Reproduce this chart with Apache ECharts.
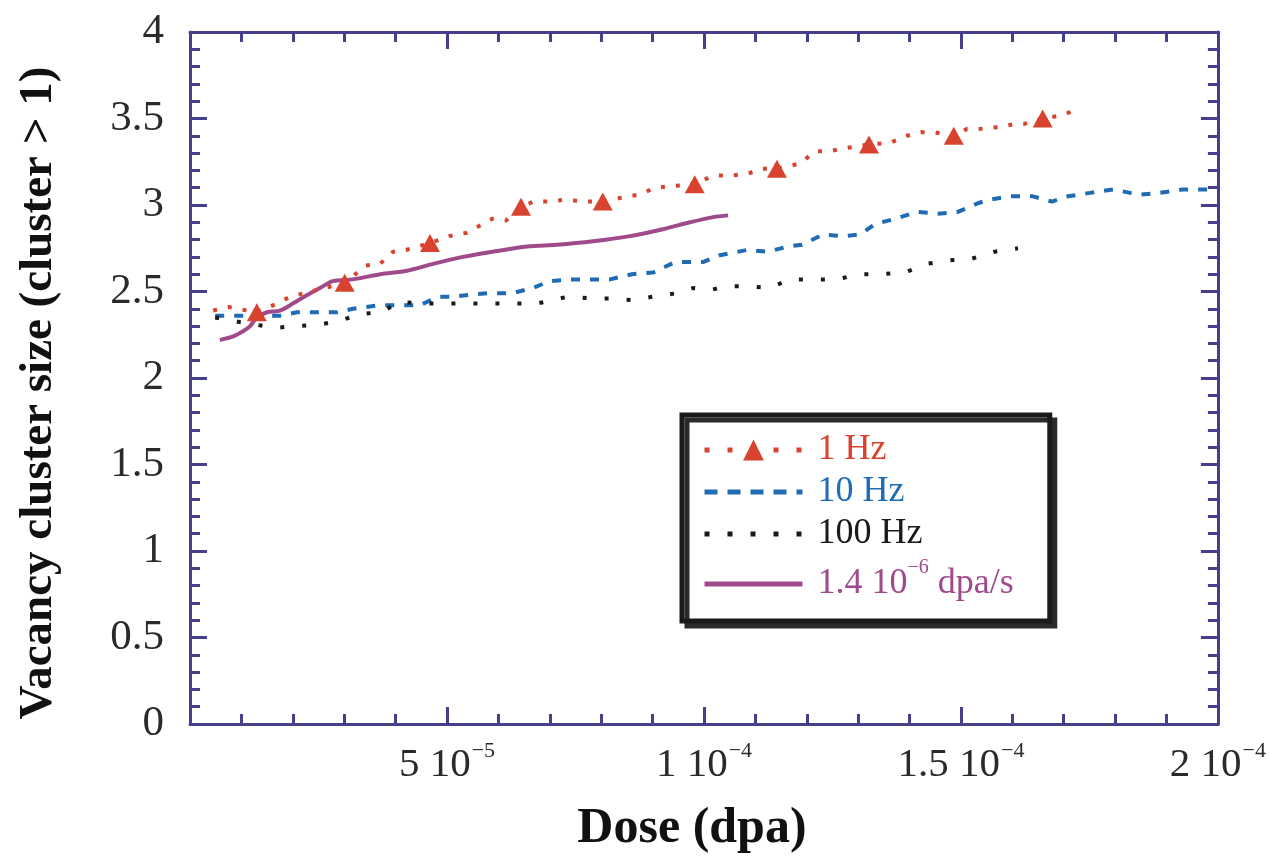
<!DOCTYPE html>
<html>
<head>
<meta charset="utf-8">
<script src="https://cdn.jsdelivr.net/npm/echarts@6/dist/echarts.min.js"></script>
<style>
html,body{margin:0;padding:0;background:#fff;}
#chart{width:1269px;height:859px;}
</style>
</head>
<body>
<div id="chart"></div>
<script>
// x values in units of 1e-5 dpa
const seriesNames = ['1 Hz', '10 Hz', '100 Hz', '1.4 10^-6 dpa/s'];

const hz1 = [
  [0.45, 2.39], [0.75, 2.41], [1.30, 2.38, 'm'], [1.69, 2.43], [1.95, 2.47],
  [3.01, 2.55, 'm'], [3.42, 2.65], [3.70, 2.66], [3.95, 2.73], [4.20, 2.74],
  [4.67, 2.78, 'm'], [5.04, 2.82], [5.39, 2.84], [5.88, 2.92], [6.15, 2.91],
  [6.44, 2.99, 'm'], [6.69, 3.02], [7.02, 3.02], [7.26, 3.03], [7.78, 3.02],
  [8.03, 3.02, 'm'], [8.52, 3.05], [8.74, 3.06], [9.05, 3.10], [9.40, 3.11],
  [9.82, 3.12, 'm'], [10.18, 3.17], [10.51, 3.17], [10.84, 3.18], [11.13, 3.21],
  [11.42, 3.21, 'm'], [11.87, 3.24], [12.16, 3.31], [12.41, 3.31], [12.78, 3.33],
  [13.21, 3.35, 'm'], [13.62, 3.36], [13.95, 3.40], [14.22, 3.42], [14.49, 3.42],
  [14.86, 3.40, 'm'], [15.12, 3.44], [15.37, 3.44], [15.72, 3.45], [16.09, 3.47],
  [16.25, 3.47], [16.59, 3.50, 'm'], [17.00, 3.52], [17.28, 3.56]
];

const hz10 = [
  [0.49, 2.36], [0.82, 2.36], [1.13, 2.36], [1.75, 2.36], [2.08, 2.38],
  [2.53, 2.38], [2.86, 2.38], [3.17, 2.40], [3.66, 2.42], [4.03, 2.42],
  [4.47, 2.42], [4.82, 2.47], [5.12, 2.47], [5.41, 2.48], [5.80, 2.49],
  [6.26, 2.49], [6.67, 2.52], [7.00, 2.56], [7.39, 2.57], [7.78, 2.57],
  [8.17, 2.57], [8.60, 2.60], [9.01, 2.61], [9.44, 2.67], [9.98, 2.67],
  [10.31, 2.71], [10.84, 2.74], [11.25, 2.73], [11.63, 2.76], [11.91, 2.77],
  [12.32, 2.83], [12.70, 2.82], [13.04, 2.83], [13.33, 2.89], [13.72, 2.92],
  [14.14, 2.96], [14.55, 2.95], [14.94, 2.96], [15.33, 3.01], [15.54, 3.03],
  [15.95, 3.05], [16.40, 3.05], [16.77, 3.02], [17.08, 3.05], [17.51, 3.07],
  [17.96, 3.09], [18.29, 3.07], [18.48, 3.06], [18.87, 3.07], [19.32, 3.09],
  [19.94, 3.09]
];

const hz100 = [
  [0.49, 2.35], [0.84, 2.33], [1.65, 2.29], [2.08, 2.30], [2.53, 2.31],
  [2.92, 2.33], [3.29, 2.37], [3.74, 2.38], [4.05, 2.44], [4.51, 2.43],
  [5.00, 2.43], [5.41, 2.43], [5.88, 2.43], [6.30, 2.43], [6.75, 2.43],
  [7.35, 2.47], [7.82, 2.46], [8.17, 2.46], [8.60, 2.45], [9.01, 2.47],
  [9.47, 2.49], [9.79, 2.52], [10.14, 2.51], [10.45, 2.53], [10.84, 2.53],
  [11.28, 2.52], [11.67, 2.57], [12.12, 2.57], [12.57, 2.57], [13.04, 2.60],
  [13.46, 2.60], [13.91, 2.61], [14.34, 2.66], [14.79, 2.68], [15.21, 2.69],
  [15.66, 2.73], [16.11, 2.75]
];

const rateSeries = [
  [0.58, 2.22], [0.84, 2.24], [1.03, 2.27], [1.17, 2.30], [1.30, 2.35],
  [1.50, 2.38], [1.75, 2.39], [2.00, 2.43], [2.28, 2.48], [2.53, 2.52],
  [2.78, 2.56], [3.17, 2.57], [3.70, 2.60], [4.22, 2.62], [4.73, 2.66],
  [5.31, 2.70], [5.89, 2.73], [6.56, 2.76], [7.14, 2.77], [7.84, 2.79],
  [8.56, 2.82], [9.20, 2.86], [9.73, 2.90], [10.18, 2.93], [10.47, 2.94]
];

const xTickValues = [5, 10, 15, 20];
const xTickMantissa = ['5', '1', '1.5', '2'];
const xTickExponent = ['\u22125', '\u22124', '\u22124', '\u22124'];

const colors = {
  red: '#d8432f',
  blue: '#1f6bb4',
  black: '#1a1a1a',
  purple: '#a04a8c',
  axis: '#463f8e'
};

const serif = "'Liberation Serif', 'Times New Roman', serif";

const chart = echarts.init(document.getElementById('chart'), null, {renderer: 'canvas'});

function xAxisBase(position, showLabel) {
  return {
    type: 'value',
    position: position,
    min: 0, max: 20, interval: 5,
    axisLine: {show: true, onZero: false, lineStyle: {color: colors.axis, width: 3}},
    axisTick: {show: true, inside: true, length: 17, lineStyle: {color: colors.axis, width: 3}},
    minorTick: {show: true, splitNumber: 5, length: 10, lineStyle: {color: colors.axis, width: 3}},
    splitLine: {show: false},
    minorSplitLine: {show: false},
    axisLabel: {
      show: showLabel,
      margin: 16,
      formatter: function (v) {
        const i = xTickValues.indexOf(v);
        if (i < 0) return '';
        return '{m|' + xTickMantissa[i] + ' 10}{e|' + xTickExponent[i] + '}';
      },
      rich: {
        m: {fontFamily: serif, fontSize: 41, color: '#2a2a2a', lineHeight: 46, verticalAlign: 'bottom'},
        e: {fontFamily: serif, fontSize: 22, color: '#2a2a2a', lineHeight: 46, verticalAlign: 'top', padding: [0, 0, 0, 1]}
      }
    }
  };
}

function yAxisBase(position, showLabel) {
  return {
    type: 'value',
    position: position,
    min: 0, max: 4, interval: 0.5,
    axisLine: {show: true, onZero: false, lineStyle: {color: colors.axis, width: 3}},
    axisTick: {show: true, inside: true, length: 17, lineStyle: {color: colors.axis, width: 3}},
    minorTick: {show: true, splitNumber: 5, length: 10, lineStyle: {color: colors.axis, width: 3}},
    splitLine: {show: false},
    minorSplitLine: {show: false},
    axisLabel: {
      show: showLabel,
      margin: 26,
      fontFamily: serif,
      fontSize: 43,
      color: '#2a2a2a'
    }
  };
}

const xBottom = xAxisBase('bottom', true);
xBottom.name = 'Dose (dpa)';
xBottom.nameLocation = 'middle';
xBottom.nameGap = 80;
xBottom.nameTextStyle = {fontFamily: serif, fontWeight: 'bold', fontSize: 50, color: '#111', padding: [0, 24, 0, 0]};

const yLeft = yAxisBase('left', true);
yLeft.name = 'Vacancy cluster size (cluster > 1)';
yLeft.nameLocation = 'middle';
yLeft.nameGap = 128;
yLeft.nameTextStyle = {fontFamily: serif, fontWeight: 'bold', fontSize: 47, color: '#111', padding: [0, 30, 0, 0]};

function toData(arr, marked) {
  return arr.map(function (p) {
    const item = {value: [p[0], p[1]]};
    if (marked && p[2] !== 'm') item.symbol = 'none';
    return item;
  });
}

const hiddenSymbol = {color: 'rgba(0,0,0,0)', borderWidth: 0, opacity: 0};

const option = {
  backgroundColor: '#ffffff',
  animation: false,
  grid: {left: 190, right: 51, top: 32, bottom: 132, containLabel: false},
  xAxis: [xBottom, xAxisBase('top', false)],
  yAxis: [yLeft, yAxisBase('right', false)],
  legend: {
    orient: 'vertical',
    left: 682,
    top: 415,
    padding: [17, 36, 19, 20],
    itemGap: 6,
    itemWidth: 98,
    itemHeight: 26,
    backgroundColor: '#ffffff',
    borderColor: '#1a1a1a',
    borderWidth: 5,
    borderRadius: 0,
    shadowColor: '#2a2a2a',
    shadowBlur: 0,
    shadowOffsetX: 5,
    shadowOffsetY: 5,
    selectedMode: false,
    lineStyle: {width: 5},
    textStyle: {
      fontFamily: serif,
      fontSize: 36,
      padding: [0, 0, 0, 10],
      rich: {
        p: {fontFamily: serif, fontSize: 36, color: colors.purple, lineHeight: 52},
        ps: {fontFamily: serif, fontSize: 20, color: colors.purple, verticalAlign: 'top', lineHeight: 44}
      }
    },
    formatter: function (name) {
      if (name === seriesNames[3]) {
        return '{p|1.4 10}{ps|\u22126}{p| dpa/s}';
      }
      return name;
    },
    data: [
      {name: seriesNames[0], textStyle: {color: colors.red},
        lineStyle: {width: 5, type: [5, 18]}},
      {name: seriesNames[1], textStyle: {color: colors.blue}, itemStyle: hiddenSymbol,
        lineStyle: {width: 5, type: [13, 10]}},
      {name: seriesNames[2], textStyle: {color: colors.black}, itemStyle: hiddenSymbol,
        lineStyle: {width: 5, type: [5, 18]}},
      {name: seriesNames[3], textStyle: {color: colors.purple}, itemStyle: hiddenSymbol,
        lineStyle: {width: 5}}
    ]
  },
  series: [
    {
      name: seriesNames[1], type: 'line', xAxisIndex: 0, yAxisIndex: 0,
      data: toData(hz10, false), showSymbol: false, symbol: 'none',
      lineStyle: {color: colors.blue, width: 4, type: [9, 10]},
      itemStyle: {color: colors.blue}
    },
    {
      name: seriesNames[2], type: 'line', xAxisIndex: 0, yAxisIndex: 0,
      data: toData(hz100, false), showSymbol: false, symbol: 'none',
      lineStyle: {color: colors.black, width: 4, type: [4, 18]},
      itemStyle: {color: colors.black}
    },
    {
      name: seriesNames[3], type: 'line', xAxisIndex: 0, yAxisIndex: 0,
      data: toData(rateSeries, false), showSymbol: false, symbol: 'none', smooth: 0.3,
      lineStyle: {color: colors.purple, width: 4},
      itemStyle: {color: colors.purple}
    },
    {
      name: seriesNames[0], type: 'line', xAxisIndex: 0, yAxisIndex: 0,
      data: toData(hz1, true), symbol: 'triangle', symbolSize: [20, 18], showSymbol: true,
      lineStyle: {color: colors.red, width: 4, type: [4, 11]},
      itemStyle: {color: colors.red}
    }
  ]
};

chart.setOption(option);
</script>
</body>
</html>
